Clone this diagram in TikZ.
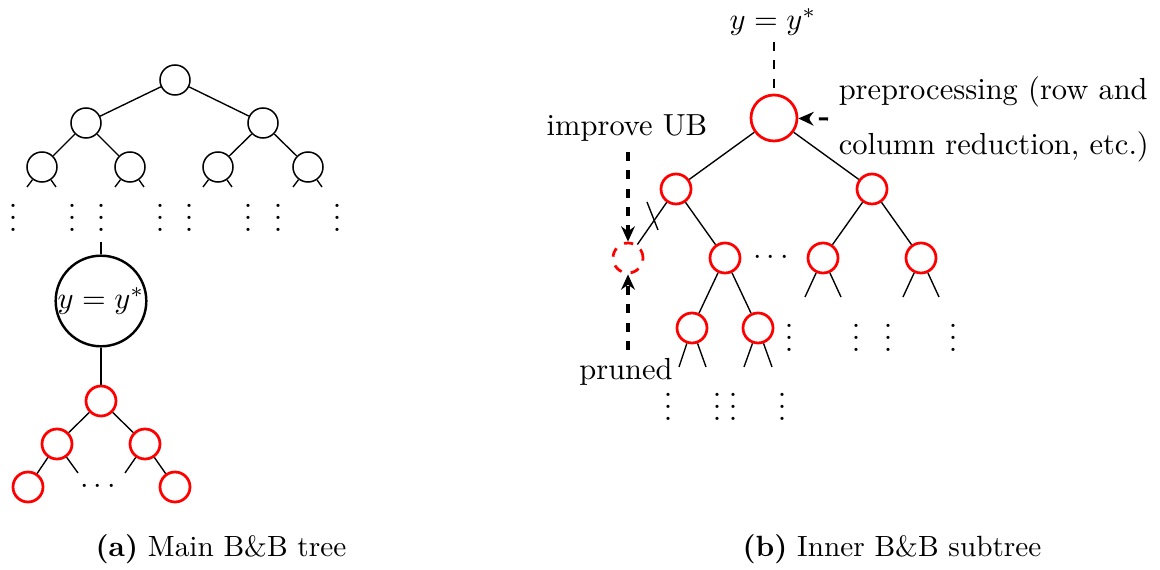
\documentclass[tikz,border=0pt]{standalone}
\usetikzlibrary{arrows.meta}
\begin{document}
\begin{tikzpicture}[x=0.328pt,y=-0.328pt,
  bnode/.style={circle,draw,line width=0.5pt,minimum size=30*0.328pt,inner sep=0pt},
  rnode/.style={circle,draw=red,line width=0.9pt,minimum size=30*0.328pt,inner sep=0pt},
  rbig/.style={circle,draw=red,line width=0.9pt,minimum size=46*0.328pt,inner sep=0pt},
  bignode/.style={circle,draw,line width=0.8pt,minimum size=90*0.328pt,inner sep=0pt},
  prunednode/.style={circle,draw=red,dashed,line width=0.9pt,minimum size=30*0.328pt,inner sep=0pt},
  edge/.style={line width=0.45pt},
  darrow/.style={dashed,line width=1pt,-{Stealth[length=5pt,width=4.5pt]}},
  dt/.style={inner sep=0pt},
  captext/.style={font=\fontsize{9.6pt}{12pt}\selectfont}
]
\useasboundingbox (0,0) rectangle (1160,570);

% ---------- (a) main tree ----------
\node[bnode] (a0) at (175,80) {};
\node[bnode] (a1) at (86,123) {};
\node[bnode] (a2) at (263,123) {};
\node[bnode] (a3) at (42,167) {};
\node[bnode] (a4) at (130,167) {};
\node[bnode] (a5) at (218,167) {};
\node[bnode] (a6) at (308,167) {};
\draw[edge] (a0) -- (a1);
\draw[edge] (a0) -- (a2);
\draw[edge] (a1) -- (a3);
\draw[edge] (a1) -- (a4);
\draw[edge] (a2) -- (a5);
\draw[edge] (a2) -- (a6);
\foreach \n/\x in {a3/42,a4/130,a5/218,a6/308}{
  \coordinate (\n l) at (\x-15,187);
  \coordinate (\n r) at (\x+14,187);
  \draw[edge] (\n) -- (\n l);
  \draw[edge] (\n) -- (\n r);
}
\foreach \x [count=\i] in {13,72,101,160,189,248,278,337}{
  \node[dt] (av\i) at (\x,209) {$\vdots$};
}
\coordinate (atop) at (101,242);
\node[bignode] (big) at (101,301) {$y=y^*$};
\draw[edge] (atop) -- (big);
\node[rnode] (r0) at (101,401) {};
\node[rnode] (r1) at (57,444) {};
\node[rnode] (r2) at (145,444) {};
\node[rnode] (r3) at (28,487) {};
\node[rnode] (r4) at (175,487) {};
\draw[edge] (big) -- (r0);
\draw[edge] (r0) -- (r1);
\draw[edge] (r0) -- (r2);
\draw[edge] (r1) -- (r3);
\draw[edge] (r2) -- (r4);
\coordinate (r1r) at (78,473);
\coordinate (r2l) at (125,473);
\draw[edge] (r1) -- (r1r);
\draw[edge] (r2) -- (r2l);
\node[dt] (adots) at (98,487) {$\cdots$};

% ---------- (b) inner subtree ----------
\node (ytop) at (773,22) {$y=y^*$};
\coordinate (ytopb) at (774,42);
\node[rbig] (b0) at (774,118) {};
\draw[edge,dashed] (ytopb) -- (b0);
\node[rnode] (b1) at (676,189) {};
\node[rnode] (b2) at (872,189) {};
\node[prunednode] (p) at (628,258) {};
\node[rnode] (b3) at (725,258) {};
\node[dt] (bdots) at (771,258) {$\cdots$};
\node[rnode] (b4) at (823,258) {};
\node[rnode] (b5) at (921,258) {};
\node[rnode] (b6) at (692,328) {};
\node[rnode] (b7) at (758,328) {};
\draw[edge] (b0) -- (b1);
\draw[edge] (b0) -- (b2);
\draw[edge] (b1) -- (p);
\draw[edge] (b1) -- (b3);
\draw[edge] (b2) -- (b4);
\draw[edge] (b2) -- (b5);
\draw[edge] (b3) -- (b6);
\draw[edge] (b3) -- (b7);
\coordinate (cx1) at (647,202);
\coordinate (cx2) at (658,230);
\draw[edge] (cx1) -- (cx2);
\foreach \n/\l/\r/\yy in {b4/805/841/297,b5/903/939/297,b6/679/706/367,b7/744/772/367}{
  \coordinate (\n l) at (\l,\yy);
  \coordinate (\n r) at (\r,\yy);
  \draw[edge] (\n) -- (\n l);
  \draw[edge] (\n) -- (\n r);
}
\foreach \x [count=\i] in {789,856,888,953}{
  \node[dt] (bv\i) at (\x,329) {$\vdots$};
}
\foreach \x [count=\i] in {668,717,733,782}{
  \node[dt] (bw\i) at (\x,398) {$\vdots$};
}
% annotations
\node (imp) at (627,128) {improve UB};
\coordinate (impa) at (628,152);
\draw[darrow] (impa) -- (p);
\node (prn) at (626,372) {pruned};
\coordinate (prna) at (628,350);
\draw[darrow] (prna) -- (p);
\node[anchor=west,align=left] (pre) at (828,119) {preprocessing (row and\\[6pt]column reduction, etc.)};
\draw[darrow] (pre.west) -- (b0);

% ---------- captions ----------
\node[captext] (capa) at (221,549) {\textbf{(a)} Main B\&B tree};
\node[captext] (capb) at (892,549) {\textbf{(b)} Inner B\&B subtree};
\end{tikzpicture}
\end{document}
